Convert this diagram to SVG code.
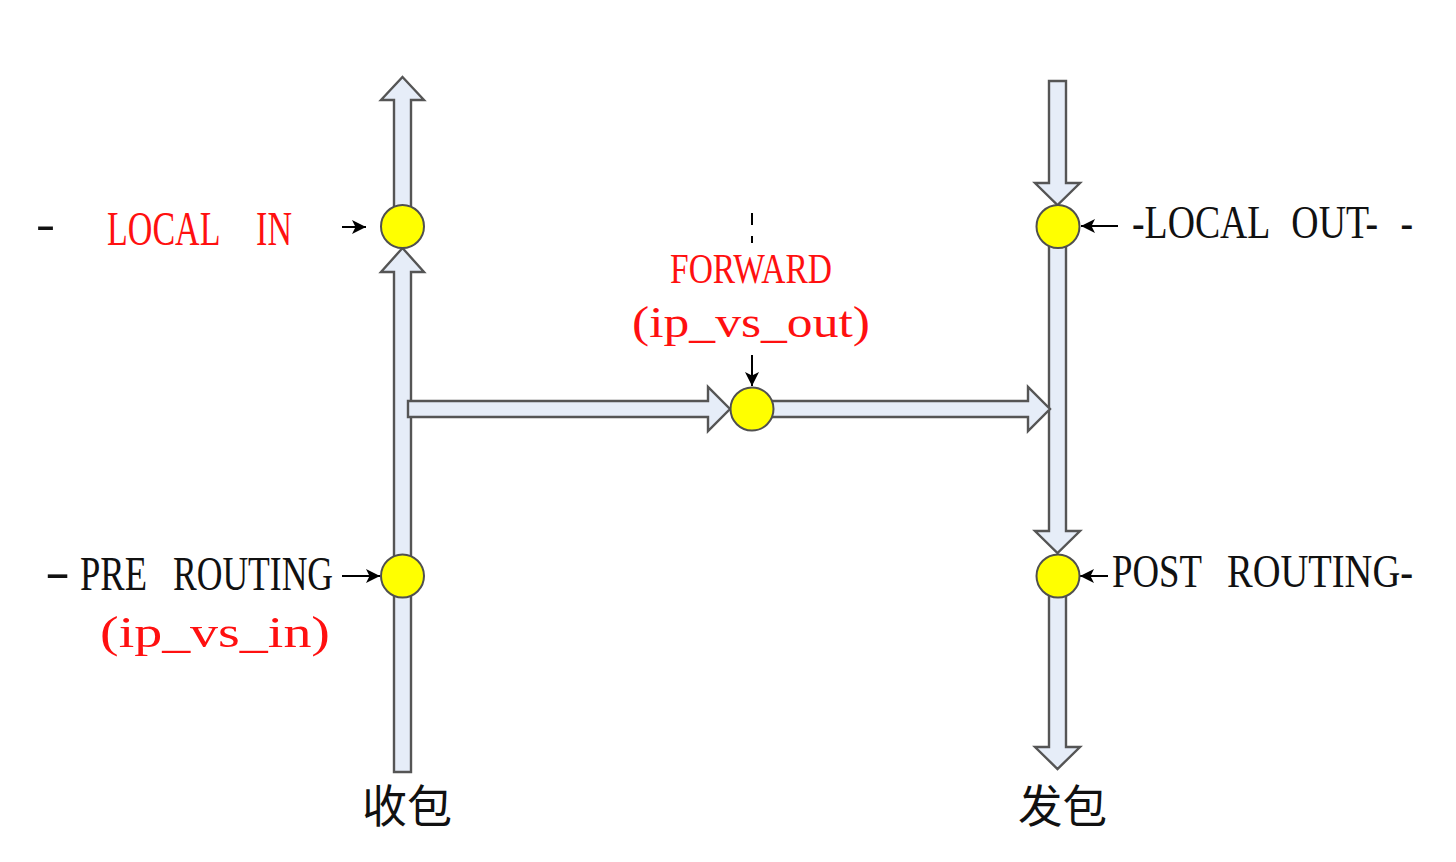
<svg xmlns="http://www.w3.org/2000/svg" width="1456" height="862" viewBox="0 0 1456 862">
<style>
.pipe{fill:#E6EDF8;stroke:#555;stroke-width:2.4;stroke-linejoin:miter}
.hook{fill:#FFFF00;stroke:#505050;stroke-width:2}
.lbl{font-family:"Liberation Serif",serif;fill:#111}
.red{font-family:"Liberation Serif",serif;fill:#FF1010}
.cjk{font-family:"Noto Sans CJK SC","Noto Sans CJK JP",sans-serif;fill:#111;font-size:45px}
.ptr{stroke:#000;stroke-width:2;fill:none}
</style>
<defs>
<marker id="ah" viewBox="0 0 10 10" refX="10" refY="5" markerWidth="7" markerHeight="7" orient="auto" markerUnits="strokeWidth">
<path d="M0,0 L10,5 L0,10 L2.5,5 z" fill="#000"/>
</marker>
</defs>
<rect width="1456" height="862" fill="#fff"/>
<g id="connectors">
<polygon class="pipe" points="402.5,77 424,100 411,100 411,208 394,208 394,100 381,100"/>
<polygon class="pipe" points="402.5,248 424,272 411,272 411,772 394,772 394,272 381,272"/>
<polygon class="pipe" points="1049,81 1066,81 1066,183 1080,183 1057.5,205 1035,183 1049,183"/>
<polygon class="pipe" points="1049,240 1066,240 1066,531 1080,531 1057.5,553 1035,531 1049,531"/>
<polygon class="pipe" points="1049,590 1066,590 1066,747 1080,747 1057.5,769 1035,747 1049,747"/>
<polygon class="pipe" points="408,401 708,401 708,387 730,409 708,431 708,417 408,417"/>
<polygon class="pipe" points="752,401 1028,401 1028,387 1050,409 1028,431 1028,417 752,417"/>
<line class="ptr" x1="342" y1="227" x2="366" y2="227" marker-end="url(#ah)"/>
<line class="ptr" x1="342" y1="576" x2="380" y2="576" marker-end="url(#ah)"/>
<line class="ptr" x1="1118" y1="226" x2="1081" y2="226" marker-end="url(#ah)"/>
<line class="ptr" x1="1108" y1="576" x2="1080" y2="576" marker-end="url(#ah)"/>
<line class="ptr" x1="752" y1="355" x2="752" y2="386" marker-end="url(#ah)"/>
<line class="ptr" x1="752" y1="213" x2="752" y2="243" stroke-dasharray="12 11"/>
</g>
<g id="local-in">
<circle class="hook" cx="402.5" cy="226.5" r="21.5"/>
<text class="lbl" x="36" y="239" font-size="46" textLength="19" lengthAdjust="spacingAndGlyphs">-</text>
<text class="red" x="107" y="245" font-size="48" word-spacing="40" textLength="185" lengthAdjust="spacingAndGlyphs">LOCAL IN</text>
</g>
<g id="pre-routing">
<circle class="hook" cx="402.5" cy="576" r="21.5"/>
<text class="lbl" x="45" y="588" font-size="48" textLength="25" lengthAdjust="spacingAndGlyphs">-</text>
<text class="lbl" x="80" y="590" font-size="48" textLength="67" lengthAdjust="spacingAndGlyphs">PRE</text>
<text class="lbl" x="173" y="590" font-size="48" textLength="160" lengthAdjust="spacingAndGlyphs">ROUTING</text>
<text class="red" x="100" y="647" font-size="44" textLength="230" lengthAdjust="spacingAndGlyphs">(ip_vs_in)</text>
</g>
<g id="forward">
<circle class="hook" cx="752" cy="409" r="21.5"/>
<text class="red" x="670" y="283" font-size="42" textLength="162" lengthAdjust="spacingAndGlyphs">FORWARD</text>
<text class="red" x="632" y="337" font-size="44" textLength="238" lengthAdjust="spacingAndGlyphs">(ip_vs_out)</text>
</g>
<g id="local-out">
<circle class="hook" cx="1058" cy="226.5" r="21.5"/>
<text class="lbl" transform="translate(1132,238) scale(1,1.21)" x="0" y="0" font-size="38" word-spacing="13" textLength="281" lengthAdjust="spacingAndGlyphs">-LOCAL OUT- -</text>
</g>
<g id="post-routing">
<circle class="hook" cx="1058" cy="576" r="21.5"/>
<text class="lbl" x="1112" y="587" font-size="46" textLength="90" lengthAdjust="spacingAndGlyphs">POST</text>
<text class="lbl" x="1227" y="587" font-size="46" textLength="186" lengthAdjust="spacingAndGlyphs">ROUTING-</text>
</g>
<g id="recv">
<text class="cjk" x="362" y="823" textLength="90" lengthAdjust="spacingAndGlyphs">收包</text>
</g>
<g id="send">
<text class="cjk" x="1018" y="823" textLength="89" lengthAdjust="spacingAndGlyphs">发包</text>
</g>
</svg>
